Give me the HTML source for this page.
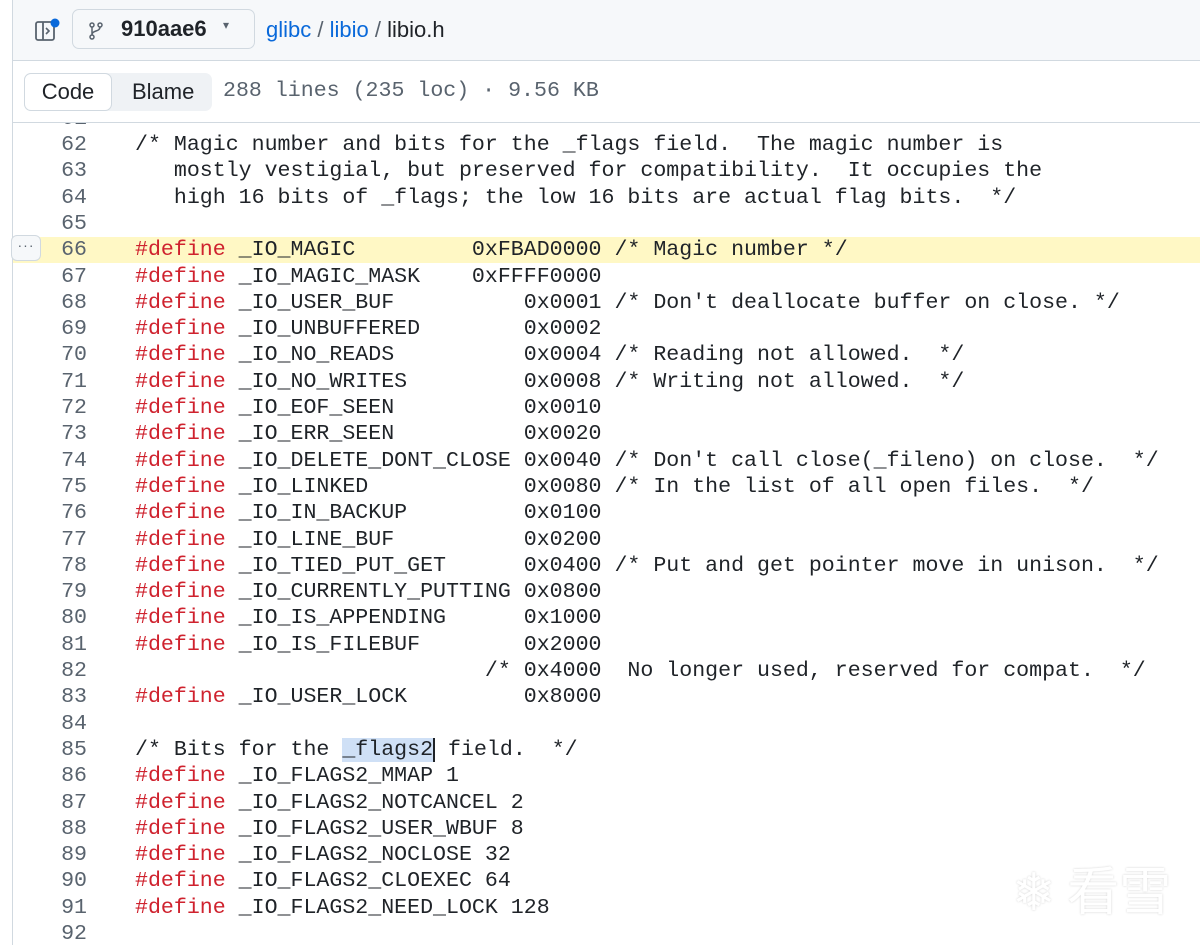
<!DOCTYPE html>
<html><head><meta charset="utf-8"><style>
body{margin:0;width:1200px;height:945px;overflow:hidden;background:#fff;font-family:"Liberation Sans",sans-serif;position:relative}
.lb{position:absolute;left:12px;top:0;width:1px;height:945px;background:#d1d9e0}
.hdr{position:absolute;left:13px;top:0;right:0;height:60px;background:#f6f8fa;border-bottom:1px solid #d1d9e0}
.bar{position:absolute;left:13px;top:61px;right:0;height:61px;background:#fff;border-bottom:1px solid #d1d9e0}
.br{position:absolute;left:59px;top:9px;width:183px;height:40px;border:1px solid #d1d9e0;border-radius:7px;background:#f6f8fa;box-sizing:border-box}
.seg{position:absolute;left:24px;top:73px;width:188px;height:38px;border-radius:7px;background:#eff2f5}
.code1{position:absolute;left:24px;top:73px;width:88px;height:38px;border:1px solid #d1d9e0;border-radius:7px;background:#fff;box-sizing:border-box;font-size:22px;color:#1f2328;text-align:center;line-height:36px}
.mono{font-family:"Liberation Mono",monospace}
.area{position:absolute;left:13px;top:123px;right:0;bottom:0;overflow:hidden}
.ln{position:absolute;left:0;height:26.3px;line-height:26.3px;font-family:"Liberation Mono",monospace;font-size:21.6px;white-space:pre;color:#1f2328;width:1187px}
.n{display:inline-block;width:74px;text-align:right;color:#59636e;margin-right:48px}
.k{color:#cf222e}
.hl{background:#fff8c5}
</style></head><body>
<div class="lb"></div>
<div class="hdr">
  <svg style="position:absolute;left:21px;top:18px" width="26" height="26" viewBox="0 0 26 26"><rect x="2" y="4" width="18" height="18" rx="2" fill="none" stroke="#59636e" stroke-width="1.8"/><line x1="9" y1="4" x2="9" y2="22" stroke="#59636e" stroke-width="1.8"/><path d="M12 10l3 3-3 3" fill="none" stroke="#59636e" stroke-width="1.6"/><circle cx="21" cy="5" r="4.5" fill="#0969da"/></svg>
  <div class="br"><svg style="position:absolute;left:16px;top:12px" width="14" height="18" viewBox="0 0 14 18"><circle cx="3" cy="3" r="2" fill="none" stroke="#59636e" stroke-width="1.5"/><circle cx="11" cy="3" r="2" fill="none" stroke="#59636e" stroke-width="1.5"/><circle cx="3" cy="15" r="2" fill="none" stroke="#59636e" stroke-width="1.5"/><path d="M3 5v8M11 5c0 5-8 3-8 8" fill="none" stroke="#59636e" stroke-width="1.5"/></svg><span style="position:absolute;left:48px;top:6px;font-size:22px;color:#1f2328;font-weight:600">910aae6</span><span style="position:absolute;left:150px;top:8px;font-size:12px;color:#59636e">▾</span></div>
  <div style="position:absolute;left:253px;top:17px;font-size:22px;color:#1f2328"><span style="color:#0969da">glibc</span> <span style="color:#59636e">/</span> <span style="color:#0969da">libio</span> <span style="color:#59636e">/</span> libio.h</div>
</div>
<div class="bar"></div>
<div class="seg"></div>
<div class="code1">Code</div>
<div style="position:absolute;left:132px;top:79px;font-size:22px;color:#1f2328">Blame</div>
<div class="mono" style="position:absolute;left:223px;top:79px;font-size:21.6px;color:#59636e">288 lines (235 loc) · 9.56 KB</div>
<div class="area">
<div class="ln" style="top:-17px"><span class="n">61</span></div>
<div class="ln" style="top:9px"><span class="n">62</span>/* Magic number and bits for the _flags field.  The magic number is</div>
<div class="ln" style="top:35.3px"><span class="n">63</span>   mostly vestigial, but preserved for compatibility.  It occupies the</div>
<div class="ln" style="top:61.6px"><span class="n">64</span>   high 16 bits of _flags; the low 16 bits are actual flag bits.  */</div>
<div class="ln" style="top:87.9px"><span class="n">65</span></div>
<div class="ln hl" style="top:114.2px"><span class="n">66</span><span class="k">#define</span> _IO_MAGIC         0xFBAD0000 /* Magic number */</div>
<div class="ln" style="top:140.5px"><span class="n">67</span><span class="k">#define</span> _IO_MAGIC_MASK    0xFFFF0000</div>
<div class="ln" style="top:166.8px"><span class="n">68</span><span class="k">#define</span> _IO_USER_BUF          0x0001 /* Don't deallocate buffer on close. */</div>
<div class="ln" style="top:193.1px"><span class="n">69</span><span class="k">#define</span> _IO_UNBUFFERED        0x0002</div>
<div class="ln" style="top:219.4px"><span class="n">70</span><span class="k">#define</span> _IO_NO_READS          0x0004 /* Reading not allowed.  */</div>
<div class="ln" style="top:245.7px"><span class="n">71</span><span class="k">#define</span> _IO_NO_WRITES         0x0008 /* Writing not allowed.  */</div>
<div class="ln" style="top:272px"><span class="n">72</span><span class="k">#define</span> _IO_EOF_SEEN          0x0010</div>
<div class="ln" style="top:298.3px"><span class="n">73</span><span class="k">#define</span> _IO_ERR_SEEN          0x0020</div>
<div class="ln" style="top:324.6px"><span class="n">74</span><span class="k">#define</span> _IO_DELETE_DONT_CLOSE 0x0040 /* Don't call close(_fileno) on close.  */</div>
<div class="ln" style="top:350.9px"><span class="n">75</span><span class="k">#define</span> _IO_LINKED            0x0080 /* In the list of all open files.  */</div>
<div class="ln" style="top:377.2px"><span class="n">76</span><span class="k">#define</span> _IO_IN_BACKUP         0x0100</div>
<div class="ln" style="top:403.5px"><span class="n">77</span><span class="k">#define</span> _IO_LINE_BUF          0x0200</div>
<div class="ln" style="top:429.8px"><span class="n">78</span><span class="k">#define</span> _IO_TIED_PUT_GET      0x0400 /* Put and get pointer move in unison.  */</div>
<div class="ln" style="top:456.1px"><span class="n">79</span><span class="k">#define</span> _IO_CURRENTLY_PUTTING 0x0800</div>
<div class="ln" style="top:482.4px"><span class="n">80</span><span class="k">#define</span> _IO_IS_APPENDING      0x1000</div>
<div class="ln" style="top:508.7px"><span class="n">81</span><span class="k">#define</span> _IO_IS_FILEBUF        0x2000</div>
<div class="ln" style="top:535px"><span class="n">82</span>                           /* 0x4000  No longer used, reserved for compat.  */</div>
<div class="ln" style="top:561.3px"><span class="n">83</span><span class="k">#define</span> _IO_USER_LOCK         0x8000</div>
<div class="ln" style="top:587.6px"><span class="n">84</span></div>
<div class="ln" style="top:613.9px"><span class="n">85</span>/* Bits for the <span style="background:#cfe0f6;border-right:2px solid #1f2328">_flags2</span> field.  */</div>
<div class="ln" style="top:640.2px"><span class="n">86</span><span class="k">#define</span> _IO_FLAGS2_MMAP 1</div>
<div class="ln" style="top:666.5px"><span class="n">87</span><span class="k">#define</span> _IO_FLAGS2_NOTCANCEL 2</div>
<div class="ln" style="top:692.8px"><span class="n">88</span><span class="k">#define</span> _IO_FLAGS2_USER_WBUF 8</div>
<div class="ln" style="top:719.1px"><span class="n">89</span><span class="k">#define</span> _IO_FLAGS2_NOCLOSE 32</div>
<div class="ln" style="top:745.4px"><span class="n">90</span><span class="k">#define</span> _IO_FLAGS2_CLOEXEC 64</div>
<div class="ln" style="top:771.7px"><span class="n">91</span><span class="k">#define</span> _IO_FLAGS2_NEED_LOCK 128</div>
<div class="ln" style="top:798px"><span class="n">92</span></div>
</div>
<div style="position:absolute;left:11px;top:235px;width:30px;height:26px;border:1px solid #d1d9e0;border-radius:6px;background:#f6f8fa;box-sizing:border-box;text-align:center;font-size:14px;line-height:18px;color:#59636e;letter-spacing:1px">···</div>
<div style="position:absolute;left:1012px;top:858px;font-size:52px;color:#fff;text-shadow:0 0 2px #d0d0d0;font-family:'Noto Sans CJK SC',sans-serif;line-height:60px">❄ 看雪</div>
</body></html>
